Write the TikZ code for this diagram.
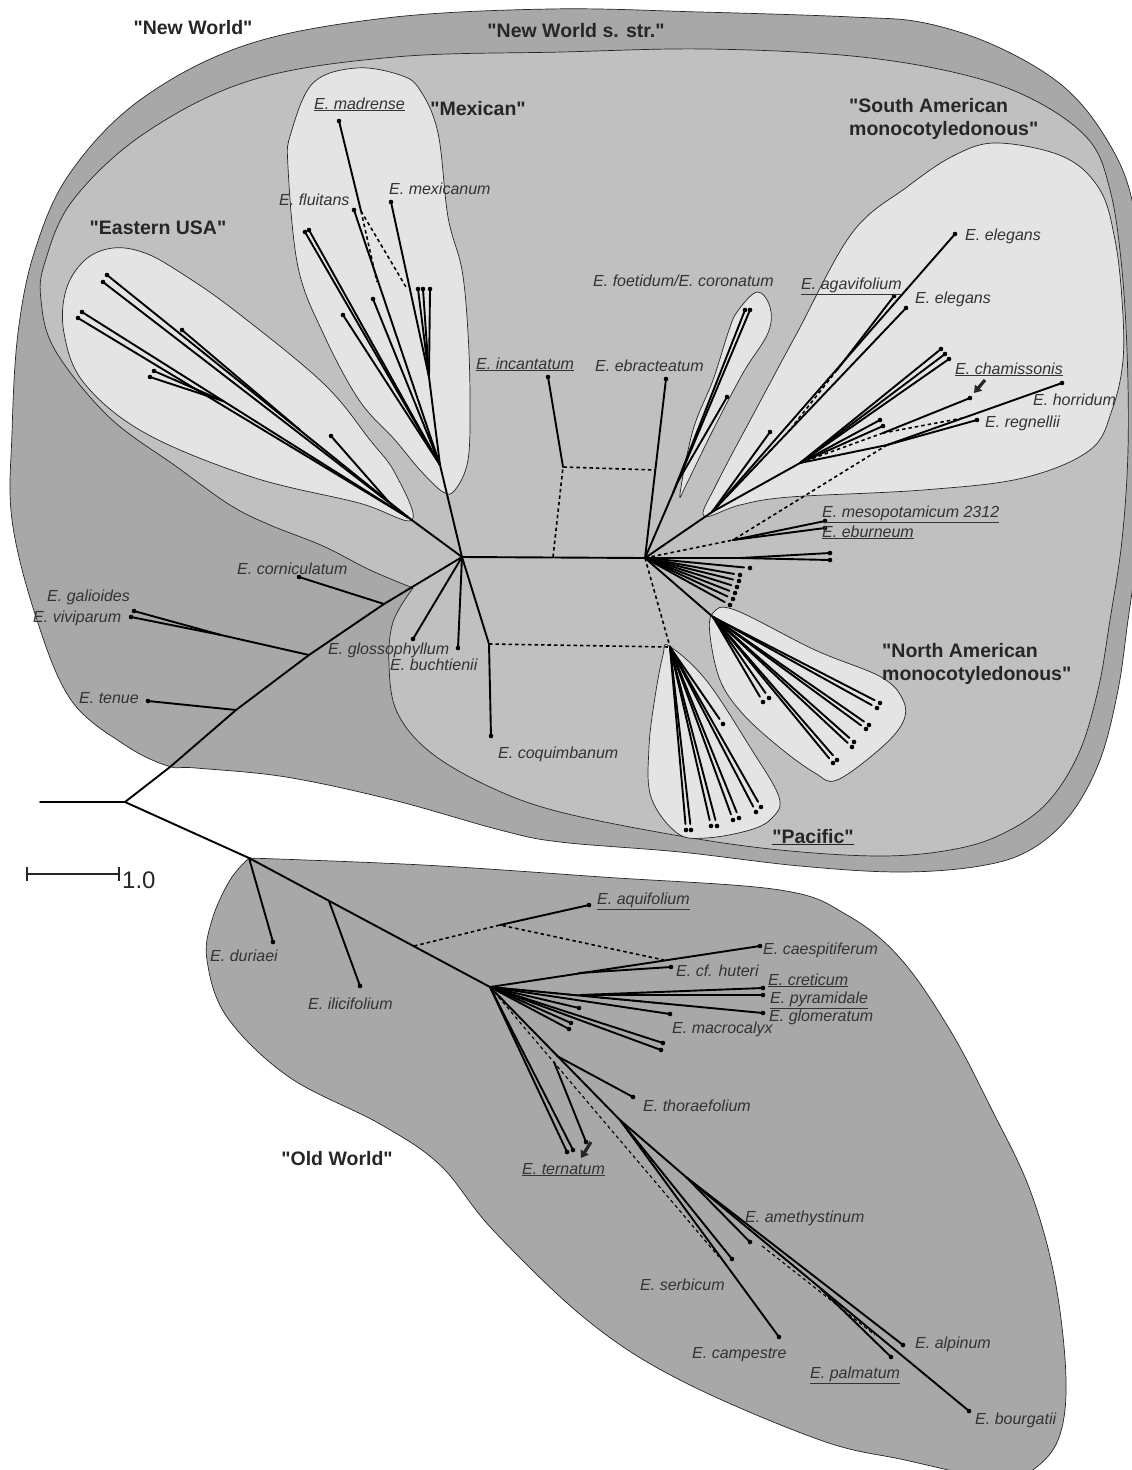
\documentclass[tikz,border=0pt]{standalone}
\usepackage{fontspec}
\setmainfont{Liberation Sans}[Ligatures=TeXOff]
\usetikzlibrary{arrows.meta}
\definecolor{cOut}{HTML}{A8A8A8}
\definecolor{cMid}{HTML}{C0C0C0}
\definecolor{cLt}{HTML}{E4E4E4}
\definecolor{cTxt}{HTML}{333333}
\definecolor{cHd}{HTML}{262626}
\begin{document}
\begin{tikzpicture}[x=1pt,y=-1pt,
 shp/.style={draw=black!85, line width=0.7pt},
 br/.style={line width=1.9pt, line cap=round, black},
 dsh/.style={line width=1.6pt, dash pattern=on 3.5pt off 3pt, black},
 gap/.style={br, shorten >=6pt},
 sp/.style={font=\itshape\fontsize{16}{18}\selectfont, text=cTxt, inner sep=0pt, anchor=base west},
 hd/.style={font=\bfseries\fontsize{19.5}{23}\selectfont, text=cHd, inner sep=0pt, anchor=base},
 hdl/.style={hd, anchor=base west},
 tip/.style={-{Triangle[width=9pt,length=7pt]}, line width=3.2pt, black!85}
]
\useasboundingbox (0,0) rectangle (1132,1470);
\begin{scope}
\clip (0,0) rectangle (1132,1470);
% ---------- group shapes ----------
\filldraw[shp, fill=cOut] plot[smooth cycle, tension=0.6] coordinates {
 (12,520) (12,433) (18,333) (35,250) (70,173) (140,100) (246,45) (386,18) (550,9) (700,12) (852,17) (925,23) (998,47) (1064,87) (1107,140) (1132,200) (1144,300) (1147,420) (1140,530) (1128,620) (1118,690) (1100,760) (1070,815) (1030,850) (980,866) (900,872) (800,866) (680,852) (560,842) (500,830) (393,800) (286,777) (196,768) (168,766) (125,745) (71,700) (36,617)};
\filldraw[shp, fill=cMid] plot[smooth, tension=0.6] coordinates {
 (413,588) (370,570) (323,546) (270,525) (230,505) (177,467) (109,417) (55,350) (41,300) (45,262) (73,200) (145,133) (252,80) (395,57) (562,52) (706,49) (852,56) (961,74) (1034,100) (1089,140) (1110,190) (1121,260) (1127,350) (1128,450) (1122,540) (1110,620) (1098,690) (1078,755) (1045,805) (1000,835) (950,850) (880,856) (780,850) (680,836) (560,812) (490,787) (430,752) (397,712) (389,665) (393,622) (413,588)} -- cycle;
\filldraw[shp, fill=cLt] plot[smooth cycle, tension=0.6] coordinates {
 (113,248) (145,253) (181,273) (234,310) (323,383) (370,440) (395,473) (412,520) (359,503) (252,477) (145,433) (84,383) (64,333) (66,290) (85,260)};
\filldraw[shp, fill=cLt] plot[smooth cycle, tension=0.6] coordinates {
 (356,68) (400,75) (420,90) (438,133) (448,217) (462,270) (468,333) (470,400) (468,460) (455,490) (443,492) (420,470) (395,440) (359,400) (323,333) (298,267) (288,167) (291,133) (313,83)};
\filldraw[shp, fill=cLt] plot[smooth cycle, tension=0.6] coordinates {
 (757,292) (770,307) (768,333) (743,373) (713,430) (687,483) (680,494) (693,430) (713,380) (728,333) (737,312)};
\filldraw[shp, fill=cLt] plot[smooth cycle, tension=0.6] coordinates {
 (998,143) (1064,157) (1100,190) (1115,240) (1122,300) (1123,360) (1112,410) (1090,450) (1023,478) (923,490) (790,497) (740,505) (704,516) (717,483) (761,400) (797,333) (852,233) (907,187) (955,155)};
\filldraw[shp, fill=cLt] plot[smooth cycle, tension=0.6] coordinates {
 (713,613) (735,610) (815,650) (881,677) (903,700) (903,722) (881,748) (837,780) (815,773) (779,747) (742,713) (720,680) (710,635)};
\filldraw[shp, fill=cLt] plot[smooth cycle, tension=0.6] coordinates {
 (669,646) (706,680) (750,747) (779,797) (772,818) (750,830) (706,838) (677,833) (651,797) (649,747) (655,697) (663,655)};
\filldraw[shp, fill=cOut] plot[smooth, tension=0.6] coordinates {
 (249,858) (423,865) (602,877) (780,890) (847,915) (900,958) (950,1030) (992,1110) (1030,1190) (1055,1280) (1066,1380) (1058,1440) (1030,1472) (1000,1480) (905,1460) (820,1440) (680,1380) (587,1320) (493,1230) (440,1165) (380,1124) (289,1077) (227,1017) (207,960) (212,920) (230,880) (249,858)} -- cycle;
\end{scope}
% ---------- coordinates: New World backbone ----------
\coordinate (Rl) at (40,802);   \coordinate (R) at (125,802);
\coordinate (s0) at (170,767);  \coordinate (T1) at (236,710);
\coordinate (T2) at (309,655);  \coordinate (T3) at (384,604);
\coordinate (H1) at (462,557);  \coordinate (H2) at (645,558);
\coordinate (tenue) at (148,701); \coordinate (vivi) at (131,617);
\coordinate (gali) at (134,611);  \coordinate (vj) at (221,635);
\coordinate (corn) at (299,577);  \coordinate (glos) at (413,639);
\coordinate (buch) at (458,648);  \coordinate (cqj) at (489,644);
\coordinate (coq) at (491,736);   \coordinate (P0) at (670,647);
\coordinate (net1) at (553,557);  \coordinate (net2) at (563,467);
\coordinate (incan) at (548,377); \coordinate (net3) at (655,470);
\coordinate (ebra) at (666,379);
% Mexican
\coordinate (M0) at (440,465);  \coordinate (madr) at (339,121);
\coordinate (madj) at (361,211); \coordinate (flu) at (354,210);
\coordinate (fluj) at (377,282); \coordinate (mexj) at (406,287);
\coordinate (mex) at (391,202);  \coordinate (mexb) at (429,377);
\coordinate (mx1) at (418,289);  \coordinate (mx2) at (423,289);
\coordinate (mx3) at (430,289);  \coordinate (mx4) at (305,232);
\coordinate (mx5) at (309,230);  \coordinate (mx6) at (373,299);
\coordinate (mx7) at (343,315);
% Eastern USA
\coordinate (E0) at (409,518);
\coordinate (eu1) at (107,275); \coordinate (eu2) at (103,282);
\coordinate (eu3) at (82,312);  \coordinate (eu4) at (78,318);
\coordinate (eu5) at (182,330); \coordinate (eu6) at (154,371);
\coordinate (eu7) at (150,377); \coordinate (eu8) at (331,436);
\coordinate (euj1) at (300,430); \coordinate (euj2) at (223,401);
\coordinate (euj3) at (388,501);
% foetidum
\coordinate (F0) at (673,493); \coordinate (fo1) at (745,310);
\coordinate (fo2) at (750,310); \coordinate (fo3) at (727,397);
\coordinate (foj) at (677,483);
% South American
\coordinate (S0) at (712,512);  \coordinate (el1) at (955,234);
\coordinate (el2) at (906,308); \coordinate (agv) at (894,296);
\coordinate (agj) at (837,370); \coordinate (agd) at (792,427);
\coordinate (sa3) at (770,432); \coordinate (S1) at (800,463);
\coordinate (ch1) at (941,349); \coordinate (ch2) at (945,354);
\coordinate (ch3) at (949,359); \coordinate (sa4) at (880,420);
\coordinate (sa5) at (883,426); \coordinate (cham) at (970,398);
\coordinate (chj) at (883,433); \coordinate (hrj) at (963,418);
\coordinate (hor) at (1062,383); \coordinate (reg) at (977,420);
\coordinate (hj) at (887,445);  \coordinate (M2) at (733,540);
\coordinate (mes) at (825,521); \coordinate (ebu) at (825,528);
\coordinate (lj) at (740,558);  \coordinate (lp1) at (830,553);
\coordinate (lp2) at (830,560);
\coordinate (fn1) at (750,568); \coordinate (fn2) at (740,575);
\coordinate (fn3) at (739,581); \coordinate (fn4) at (737,587);
\coordinate (fn5) at (735,593); \coordinate (fn6) at (733,599);
\coordinate (fn7) at (730,605);
% North American
\coordinate (N0) at (713,617);
\coordinate (na1) at (763,702); \coordinate (na2) at (769,698);
\coordinate (na3) at (833,763); \coordinate (na4) at (837,760);
\coordinate (na5) at (852,747); \coordinate (na6) at (854,742);
\coordinate (na7) at (866,729); \coordinate (na8) at (869,725);
\coordinate (na9) at (877,708); \coordinate (na10) at (880,703);
% Pacific
\coordinate (pc1) at (686,830); \coordinate (pc2) at (691,830);
\coordinate (pc3) at (711,826); \coordinate (pc4) at (717,826);
\coordinate (pc5) at (733,820); \coordinate (pc6) at (739,818);
\coordinate (pc7) at (756,812); \coordinate (pc8) at (761,807);
\coordinate (pc9) at (723,724);
% Old World
\coordinate (O1) at (249,858);  \coordinate (dur) at (273,942);
\coordinate (ilj) at (329,901); \coordinate (ili) at (360,986);
\coordinate (O2) at (490,987);  \coordinate (aqd) at (414,946);
\coordinate (aqj) at (500,925); \coordinate (aqu) at (589,905);
\coordinate (cae) at (760,946); \coordinate (cej) at (664,960);
\coordinate (huj) at (579,973); \coordinate (hut) at (671,967);
\coordinate (crj) at (580,995); \coordinate (cre) at (763,988);
\coordinate (pyr) at (763,995); \coordinate (glo) at (763,1013);
\coordinate (gld) at (669,1004); \coordinate (mac) at (670,1014);
\coordinate (ow1) at (579,1008); \coordinate (ow2) at (571,1023);
\coordinate (ow3) at (569,1029); \coordinate (ow4) at (663,1043);
\coordinate (ow5) at (661,1050); \coordinate (thj) at (557,1056);
\coordinate (tho) at (633,1097); \coordinate (O3) at (620,1120);
\coordinate (te1) at (567,1152); \coordinate (te2) at (573,1150);
\coordinate (te3) at (586,1142); \coordinate (tej) at (554,1062);
\coordinate (ser) at (732,1259); \coordinate (serd) at (719,1257);
\coordinate (cam) at (779,1337); \coordinate (O4) at (686,1177);
\coordinate (ame) at (750,1242); \coordinate (bou) at (969,1411);
\coordinate (alp) at (903,1345); \coordinate (paj) at (821,1289);
\coordinate (pal) at (891,1357); \coordinate (ad1) at (762,1246);
\coordinate (ad2) at (875,1335);
% ---------- branches ----------
\draw[br] (Rl) -- (R) -- (s0) -- (T1) -- (T2) -- (T3) -- (H1) -- (H2);
\draw[br] (T1) -- (tenue);
\draw[br] (T2) -- (vj) -- (vivi);  \draw[br] (vj) -- (gali);
\draw[br] (T3) -- (corn);
\draw[br] (H1) -- (glos);  \draw[br] (H1) -- (buch);
\draw[br] (H1) -- (cqj) -- (coq);
\draw[dsh] (cqj) -- (P0);  \draw[dsh] (H2) -- (P0);
\draw[dsh] (net1) -- (net2) -- (net3);
\draw[br] (net2) -- (incan);
\draw[br] (H2) -- (ebra);
% Mexican
\draw[br] (H1) -- (M0);
\draw[br] (madr) -- (madj);
\draw[dsh] (madj) -- (fluj);  \draw[dsh] (madj) -- (mexj);
\draw[br] (M0) -- (flu);
\draw[br] (M0) -- (mexb) -- (mex);
\foreach \p in {mx1,mx2,mx3} \draw[br] (mexb) -- (\p);
\foreach \p in {mx4,mx5,mx6,mx7} \draw[br] (M0) -- (\p);
% Eastern USA
\draw[br] (H1) -- (E0);
\foreach \p in {eu1,eu2,eu3,eu4} \draw[br] (E0) -- (\p);
\draw[br] (euj1) -- (eu5);
\draw[br] (euj2) -- (eu6);  \draw[br] (euj2) -- (eu7);
\draw[br] (euj3) -- (eu8);
% foetidum
\draw[br] (H2) -- (F0);
\draw[br] (F0) -- (fo1);  \draw[br] (F0) -- (fo2);  \draw[br] (foj) -- (fo3);
% South American
\draw[br] (H2) -- (S0);
\foreach \p in {el1,el2,sa3,S1} \draw[br] (S0) -- (\p);
\draw[br] (agv) -- (agj);  \draw[dsh] (agj) -- (agd);
\foreach \p in {ch1,ch2,ch3,sa4,sa5} \draw[br] (S1) -- (\p);
\draw[br] (cham) -- (chj);
\draw[dsh] (chj) -- (S1);  \draw[dsh] (hrj) -- (chj);
\draw[br] (S1) -- (hj) -- (hor);  \draw[br] (hj) -- (reg);
\draw[dsh] (hj) -- (M2);  \draw[dsh] (H2) -- (M2);
\draw[br] (M2) -- (mes);  \draw[br] (M2) -- (ebu);
\draw[br] (H2) -- (lj);  \draw[br] (lj) -- (lp1);  \draw[br] (lj) -- (lp2);
\foreach \p in {fn1,fn2,fn3,fn4,fn5,fn6,fn7} \draw[gap] (H2) -- (\p);
% North American
\draw[br] (H2) -- (N0);
\foreach \p in {na1,na2,na3,na4,na5,na6,na7,na8,na9,na10} \draw[gap] (N0) -- (\p);
% Pacific
\foreach \p in {pc1,pc2,pc3,pc4,pc5,pc6,pc7,pc8,pc9} \draw[gap] (P0) -- (\p);
% Old World
\draw[br] (R) -- (O1) -- (O2);
\draw[br] (O1) -- (dur);  \draw[br] (ilj) -- (ili);
\draw[dsh] (aqd) -- (aqj) -- (cej);
\draw[br] (aqj) -- (aqu);
\draw[br] (O2) -- (cae);  \draw[br] (huj) -- (hut);
\draw[dsh] (O2) -- (gld);
\draw[br] (crj) -- (cre);  \draw[br] (crj) -- (pyr);
\foreach \p in {glo,mac,ow1,ow2,ow3,ow4,ow5} \draw[br] (O2) -- (\p);
\draw[br] (O2) -- (O3);  \draw[br] (thj) -- (tho);
\draw[br] (O2) -- (te1);  \draw[br] (O2) -- (te2);  \draw[br] (tej) -- (te3);
\draw[dsh, line width=1.1pt] (O2) -- (serd);
\draw[br] (O3) -- (ser);  \draw[br] (O3) -- (cam);  \draw[br] (O3) -- (O4);
\draw[br] (O4) -- (ame);  \draw[br] (O4) -- (bou);  \draw[br] (O4) -- (alp);
\draw[br] (paj) -- (pal);
\draw[dsh, line width=1.1pt] (ad1) -- (ad2);
% ---------- leaf dots ----------
\foreach \p in {tenue,vivi,gali,corn,glos,buch,coq,incan,ebra,
  madr,flu,mex,mx1,mx2,mx3,mx4,mx5,mx6,mx7,
  eu1,eu2,eu3,eu4,eu5,eu6,eu7,eu8,fo1,fo2,fo3,
  el1,el2,agv,sa3,ch1,ch2,ch3,sa4,sa5,cham,hor,reg,mes,ebu,lp1,lp2,
  fn1,fn2,fn3,fn4,fn5,fn6,fn7,na1,na2,na3,na4,na5,na6,na7,na8,na9,na10,
  pc1,pc2,pc3,pc4,pc5,pc6,pc7,pc8,pc9,
  dur,ili,aqu,cae,hut,cre,pyr,glo,mac,ow1,ow2,ow3,ow4,ow5,tho,
  te1,te2,te3,ser,cam,ame,bou,alp,pal}
  \fill[black] (\p) circle[radius=2.3pt];
% ---------- arrows ----------
\coordinate (ca1) at (985,380); \coordinate (ca2) at (974,393);
\draw[tip] (ca1) -- (ca2);
\coordinate (ta1) at (591,1142); \coordinate (ta2) at (581,1158);
\draw[tip] (ta1) -- (ta2);
% ---------- scale bar ----------
\coordinate (sb1) at (27,874); \coordinate (sb2) at (119,874);
\draw[line width=1.3pt, black!85] (sb1) -- (sb2);
\draw[line width=1.3pt, black!85] ([yshift=7pt]sb1) -- ([yshift=-7pt]sb1);
\draw[line width=1.3pt, black!85] ([yshift=7pt]sb2) -- ([yshift=-7pt]sb2);
\node[font=\fontsize{24}{26}\selectfont, text=cHd, inner sep=0pt, anchor=base west] (sbl) at (122,888) {1.0};
% ---------- group labels ----------
\node[hd] (hNW) at (193,34) {"New World"};
\node[hd] (hSS) at (576,37) {"New World s. str."};
\node[hd] (hMX) at (478,115) {"Mexican"};
\node[hd] (hEU) at (158,234) {"Eastern USA"};
\node[hdl] (hSA1) at (849,112) {"South American};
\node[hdl] (hSA2) at (849,135) {monocotyledonous"};
\node[hdl] (hNA1) at (882,657) {"North American};
\node[hdl] (hNA2) at (882,680) {monocotyledonous"};
\node[hd] (hPA) at (813,843) {\underline{"Pacific"}};
\node[hd] (hOW) at (337,1165) {"Old World"};
% ---------- species labels ----------
\node[sp] (lmadr) at (314,109) {\underline{E. madrense}};
\node[sp] (lmex) at (389,194) {E. mexicanum};
\node[sp] (lflu) at (279,205) {E. fluitans};
\node[sp] (linc) at (476,369) {\underline{E. incantatum}};
\node[sp] (lebr) at (595,371) {E. ebracteatum};
\node[sp] (lfoe) at (593,286) {E. foetidum/E. coronatum};
\node[sp] (lagv) at (801,289) {\underline{E. agavifolium}};
\node[sp] (lel1) at (965,240) {E. elegans};
\node[sp] (lel2) at (915,303) {E. elegans};
\node[sp] (lcha) at (955,374) {\underline{E. chamissonis}};
\node[sp] (lhor) at (1033,405) {E. horridum};
\node[sp] (lreg) at (985,427) {E. regnellii};
\node[sp] (lmes) at (822,517) {\underline{E. mesopotamicum 2312}};
\node[sp] (lebu) at (822,537) {\underline{E. eburneum}};
\node[sp] (lcor) at (237,574) {E. corniculatum};
\node[sp] (lgal) at (47,601) {E. galioides};
\node[sp] (lviv) at (33,622) {E. viviparum};
\node[sp] (lglo) at (328,654) {E. glossophyllum};
\node[sp] (lbuc) at (390,670) {E. buchtienii};
\node[sp] (lten) at (79,703) {E. tenue};
\node[sp] (lcoq) at (498,758) {E. coquimbanum};
\node[sp] (laqu) at (597,904) {\underline{E. aquifolium}};
\node[sp] (ldur) at (210,961) {E. duriaei};
\node[sp] (lcae) at (763,954) {E. caespitiferum};
\node[sp] (lhut) at (676,976) {E. cf. huteri};
\node[sp] (lcre) at (768,985) {\underline{E. creticum}};
\node[sp] (lpyr) at (770,1003) {\underline{E. pyramidale}};
\node[sp] (lglm) at (769,1021) {E. glomeratum};
\node[sp] (lmac) at (672,1033) {E. macrocalyx};
\node[sp] (lili) at (308,1009) {E. ilicifolium};
\node[sp] (ltho) at (643,1111) {E. thoraefolium};
\node[sp] (lter) at (522,1174) {\underline{E. ternatum}};
\node[sp] (lame) at (745,1222) {E. amethystinum};
\node[sp] (lser) at (640,1290) {E. serbicum};
\node[sp] (lcam) at (692,1358) {E. campestre};
\node[sp] (lalp) at (915,1348) {E. alpinum};
\node[sp] (lpal) at (810,1378) {\underline{E. palmatum}};
\node[sp] (lbou) at (975,1424) {E. bourgatii};
\end{tikzpicture}
\end{document}
